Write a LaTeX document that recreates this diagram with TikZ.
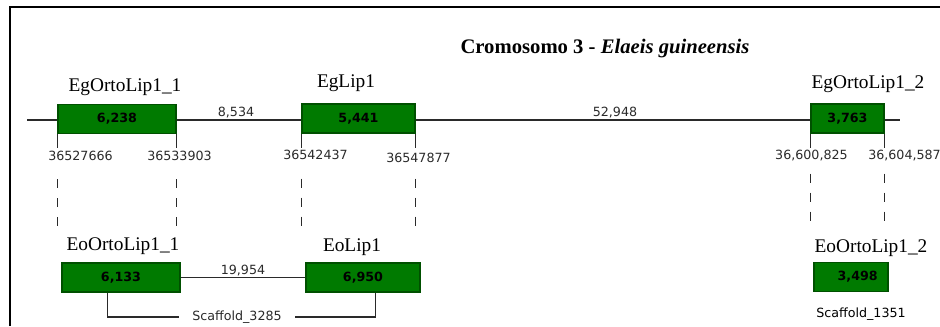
\documentclass[tikz,border=0pt]{standalone}
\usepackage{fontspec}
\setmainfont{Liberation Serif}
\setsansfont{DejaVu Sans}
\usetikzlibrary{calc}
\definecolor{genegreen}{HTML}{007A00}
\definecolor{geneedge}{HTML}{005000}
\definecolor{ink}{HTML}{2A2A2A}

\begin{document}
\begin{tikzpicture}[x=.75pt,y=-.75pt,
  gene/.style={draw=geneedge,fill=genegreen,line width=.9pt,minimum height=21.75pt,
    inner sep=0pt,font=\sffamily\bfseries\fontsize{9.5}{10}\selectfont},
  genename/.style={anchor=base,inner sep=0pt,font=\fontsize{14.5}{16}\selectfont},
  coord/.style={inner sep=0pt,text=ink,font=\sffamily\fontsize{9.5}{11}\selectfont},
  tick/.style={draw=ink,line width=.75pt},
  link/.style={draw=ink,line width=1.1pt,dash pattern=on 6.75pt off 7.5pt}]
  \path[use as bounding box] (0,0) rectangle (940,326);
  \draw[line width=1.5pt] (10,326) -- (10,7) -- (940,7);

  \node[font=\bfseries\fontsize{15.5}{17}\selectfont] (title) at (605,49)
    {Cromosomo 3 - \textit{Elaeis guineensis}};

  % Chromosome 3 of E. guineensis, drawn first so the genes sit on top.
  \coordinate (chrL) at (27,120);
  \coordinate (chrR) at (900,120);
  \draw[ink,line width=.9pt] (chrL) -- (chrR);

  \node[gene,minimum width=88.5pt]  (g1) at (117,119)   {6,238};
  \node[gene,minimum width=84.75pt] (g2) at (358.5,118.5) {5,441};
  \node[gene,minimum width=54.75pt] (g3) at (847.5,118.5) {3,763};
  \node[genename] (g1name) at (125,91) {EgOrtoLip1\_1};
  \node[genename] (g2name) at (346,87) {EgLip1};
  \node[genename] (g3name) at (868,88) {EgOrtoLip1\_2};
  \node[coord] (d12) at (236,113) {8,534};
  \node[coord] (d23) at (615,113) {52,948};

  % Start and end positions hang below each gene.
  \foreach \g in {g1,g2,g3}{
    \draw[tick] (\g.south west) -- ++(0,14);
    \draw[tick] (\g.south east) -- ++(0,14);
  }
  \node[coord] (p1) at (80.5,156) {36527666};
  \node[coord] (p2) at (179.5,156) {36533903};
  \node[coord] (p3) at (315.5,155) {36542437};
  \node[coord] (p4) at (418.5,158) {36547877};
  \node[coord] (p5) at (811.5,156) {36,600,825};
  \node[coord,anchor=west] (p6) at (868,156) {36,604,587};

  % Orthologous regions in E. oleifera.
  \node[gene,minimum width=88.5pt] (e1) at (121,277.5) {6,133};
  \node[gene,minimum width=85.5pt] (e2) at (363,277.5) {6,950};
  \node[gene,minimum width=55.5pt] (e3) at (851,277)   {\hspace{10pt}3,498};
  \node[genename] (e1name) at (123,250) {EoOrtoLip1\_1};
  \node[genename] (e2name) at (352,251) {EoLip1};
  \node[genename] (e3name) at (871,252) {EoOrtoLip1\_2};
  \draw[ink,line width=.9pt] (e1) -- (e2)
    node[midway,above,inner sep=.5pt,text=ink,font=\sffamily\fontsize{9.5}{11}\selectfont] {19,954};

  \node[coord,fill=white,inner xsep=10pt] (scf1) at (237,317) {Scaffold\_3285};
  \node[coord,text=black] (scf2) at (861,314) {Scaffold\_1351};
  \draw[ink,line width=.9pt] ($(e1.south west)+(46,0)$) |- (scf1.west);
  \draw[ink,line width=.9pt] (scf1.east) -| ($(e2.south west)+(70,0)$);

  % Dashed guides link each E. guineensis gene to its counterpart.
  \foreach \g in {g1,g2}{
    \draw[link] ($(\g.south west)+(0,45)$) -- ++(0,48);
    \draw[link] ($(\g.south east)+(0,45)$) -- ++(0,48);
  }
  \draw[link] ($(g3.south west)+(0,40)$) -- ++(0,48);
  \draw[link] ($(g3.south east)+(0,40)$) -- ++(0,48);
\end{tikzpicture}
\end{document}
